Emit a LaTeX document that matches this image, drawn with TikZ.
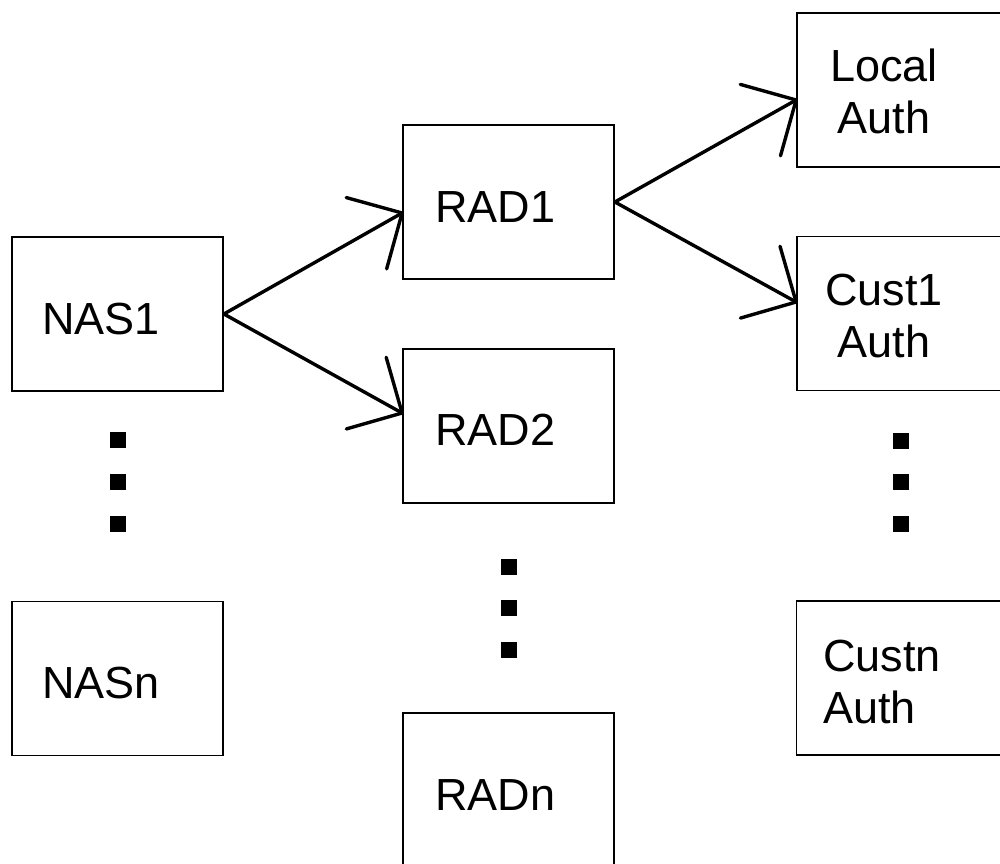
\documentclass[tikz,border=0pt]{standalone}
\usepackage{fontspec}
\setmainfont{Liberation Sans}
\usetikzlibrary{arrows.meta}
\pgfdeclarearrow{
  name = OpenV,
  parameters = {\the\pgfarrowlength,\the\pgfarrowwidth,\the\pgfarrowlinewidth},
  setup code = {
    \pgfarrowssettipend{0pt}
    \pgfarrowssetlineend{-1pt}
    \pgfarrowssetbackend{-\pgfarrowlength}
    \pgfarrowssavethe\pgfarrowlength
    \pgfarrowssavethe\pgfarrowwidth
    \pgfarrowssavethe\pgfarrowlinewidth
  },
  drawing code = {
    \pgfsetdash{}{0pt}
    \pgfsetlinewidth{\pgfarrowlinewidth}
    \pgfsetroundcap
    \pgfsetroundjoin
    \pgfpathmoveto{\pgfqpoint{-\pgfarrowlength}{0.5\pgfarrowwidth}}
    \pgfpathlineto{\pgfqpoint{0pt}{0pt}}
    \pgfpathlineto{\pgfqpoint{-\pgfarrowlength}{-0.5\pgfarrowwidth}}
    \pgfusepathqstroke
  },
  defaults = {length=41pt, width=82pt, line width=+0pt 1 1}
}
\begin{document}
\begin{tikzpicture}[x=1pt,y=-1pt,
  box/.style={draw, line width=1.8pt, minimum width=211pt, minimum height=154pt, inner sep=0pt},
  lbl/.style={inner sep=0pt, font=\fontsize{45pt}{52pt}\selectfont},
  sqdot/.style={fill=black, draw=none, minimum size=16pt, inner sep=0pt},
  conn/.style={line width=3.4pt, -{OpenV}}]
\fill[white] (0,0) rectangle (1000,863);
\clip (0,0) rectangle (1000,863);
% boxes
\node[box] (NAS1) at (117.5,314) {};
\node[box] (NASn) at (117.5,678.5) {};
\node[box] (RAD1) at (508.5,202) {};
\node[box] (RAD2) at (508.5,426) {};
\node[box] (RADn) at (508.5,790) {};
\node[box] (Local) at (902.5,90) {};
\node[box] (Cust1) at (902.5,313.5) {};
\node[box] (Custn) at (902,678) {};
% labels
\node[lbl, anchor=base west] (tNAS1) at (42,334) {NAS1};
\node[lbl, anchor=base west] (tNASn) at (42,698) {NASn};
\node[lbl, anchor=base west] (tRAD1) at (435,222) {RAD1};
\node[lbl, anchor=base west] (tRAD2) at (435,445) {RAD2};
\node[lbl, anchor=base west] (tRADn) at (435,810) {RADn};
\node[lbl, align=center, anchor=base] (tLocal) at (884,133) {Local\\Auth};
\node[lbl, align=center, anchor=base] (tCust1) at (884,357) {Cust1\\Auth};
\node[lbl, align=left, anchor=base west] (tCustn) at (823,723) {Custn\\Auth};
% dots
\node[sqdot] (d1) at (117.5,440) {};
\node[sqdot] (d2) at (117.5,482) {};
\node[sqdot] (d3) at (117.5,524) {};
\node[sqdot] (d4) at (509,567) {};
\node[sqdot] (d5) at (509,608) {};
\node[sqdot] (d6) at (509,650) {};
\node[sqdot] (d7) at (901,441) {};
\node[sqdot] (d8) at (901,482) {};
\node[sqdot] (d9) at (901,524) {};
% connectors
\draw[conn] (NAS1.east) -- ([yshift=-11pt]RAD1.west);
\draw[conn] (NAS1.east) -- ([yshift=13pt]RAD2.west);
\draw[conn] (RAD1.east) -- ([yshift=-10pt]Local.west);
\draw[conn] (RAD1.east) -- ([yshift=11.5pt]Cust1.west);
\end{tikzpicture}
\end{document}
